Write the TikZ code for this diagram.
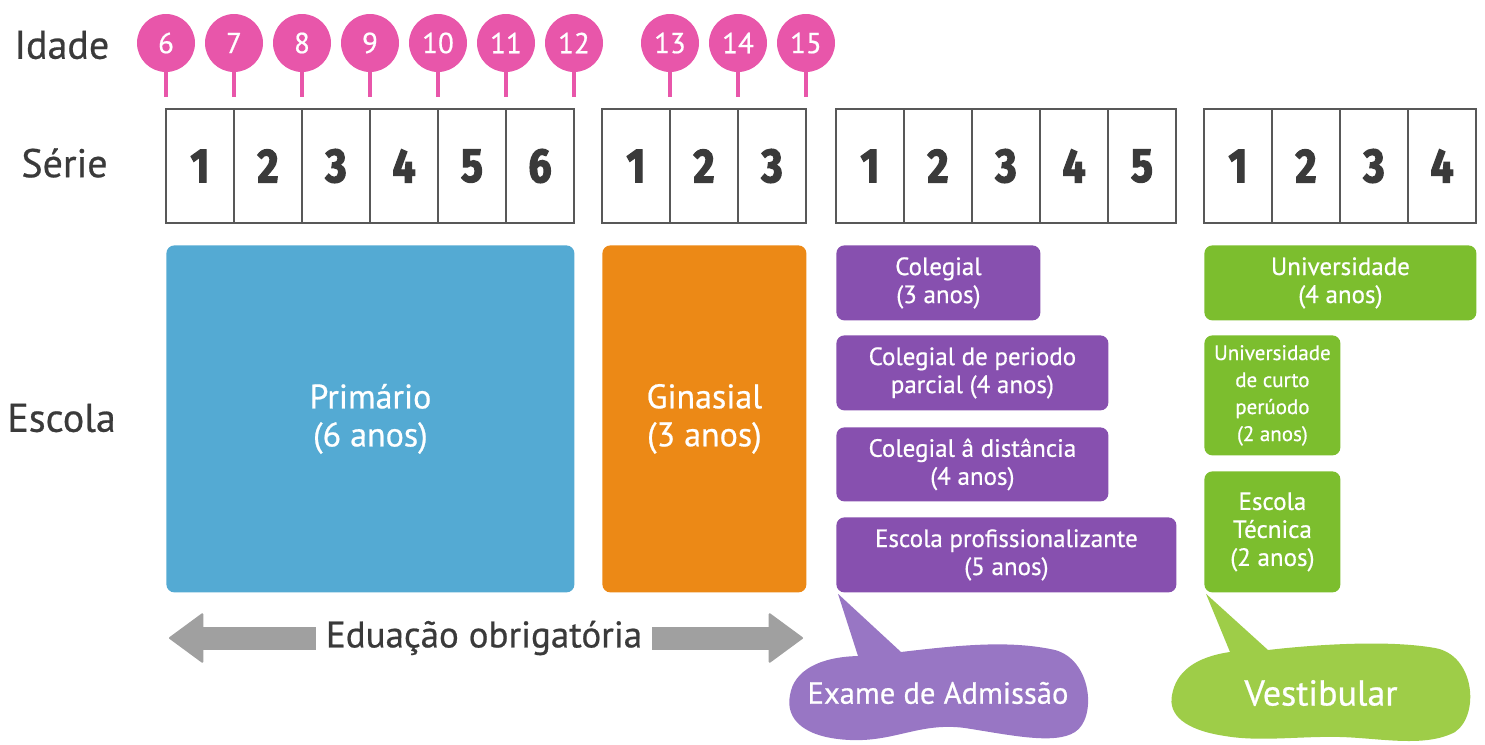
\documentclass[tikz,border=0pt]{standalone}
\usepackage{fontspec}
\setmainfont{PT Sans}[UprightFeatures={FakeBold=0.6}]
\newfontfamily\numfont{Fira Sans}[BoldFeatures={FakeBold=2.5}, FakeStretch=0.85]
\usetikzlibrary{positioning, arrows.meta}
\definecolor{pinpink}{RGB}{232,86,170}
\definecolor{txtgray}{RGB}{58,58,58}
\definecolor{primblue}{RGB}{84,170,211}
\definecolor{ginorange}{RGB}{236,137,22}
\definecolor{colpurple}{RGB}{135,80,175}
\definecolor{unigreen}{RGB}{124,190,46}
\definecolor{exampurple}{RGB}{152,118,196}
\definecolor{vestgreen}{RGB}{158,205,72}
\definecolor{arrowgray}{RGB}{160,160,160}

\begin{document}
\begin{tikzpicture}[x=0.5pt, y=-0.5pt,
    rowlabel/.style={anchor=west, inner sep=0pt, text=txtgray, font=\fontsize{20}{23}\selectfont},
    agepin/.style={circle, fill=pinpink, minimum size=29pt, inner sep=0pt, text=white, font=\fontsize{14.5}{15}\selectfont},
    pinstem/.style={draw=pinpink, line width=1.6pt},
    cell/.style={draw=txtgray!85, line width=0.9pt, minimum width=34pt, minimum height=57pt, inner sep=0pt,
      text=txtgray, font=\numfont\bfseries\fontsize{24}{24}\selectfont},
    school/.style={anchor=north west, rounded corners=4pt, inner sep=0pt, text=white, align=center},
    bigschool/.style={school, font=\fontsize{17}{19}\selectfont},
    smallschool/.style={school, minimum height=37.5pt, font=\fontsize{12.5}{14}\selectfont},
    bubbletext/.style={inner sep=0pt, text=white},
    bigarrow/.style={draw=arrowgray, line width=11.5pt,
      -{Triangle[length=17.5pt, width=25.5pt, line width=1pt, round]}},
  ]
  \useasboundingbox (0,0) rectangle (1485,745);

  % row labels
  \node[rowlabel] (lbl_idade) at (14,45) {Idade};
  \node[rowlabel] (lbl_serie) at (21,163) {Série};
  \node[rowlabel] (lbl_escola) at (7,418) {Escola};

  % age pins
  \foreach \age/\px in {6/166, 7/234, 8/302, 9/370, 10/438, 11/506, 12/574, 13/670, 14/738, 15/806} {
    \node[agepin] (age_\age) at (\px,43) {\age};
    \coordinate (stem_\age) at (\px,97);
    \draw[pinstem] (age_\age) -- (stem_\age);
  }

  % grade cells
  \foreach \grp/\left/\n in {prim/166/6, gin/602/3, col/836/5, uni/1204/4}
    \foreach \i in {1,...,\n}
      \node[cell] (cell_\grp_\i) at ({\left+68*\i-34},166) {\i};

  % schools
  \node[bigschool, fill=primblue, minimum width=204pt, minimum height=173.5pt] (box_primario) at (166,245) {Primário\\(6 anos)};
  \node[bigschool, fill=ginorange, minimum width=102pt, minimum height=173.5pt] (box_ginasial) at (602,245) {Ginasial\\(3 anos)};

  \node[smallschool, fill=colpurple, minimum width=102pt] (box_colegial) at (836,245) {Colegial\\(3 anos)};
  \node[smallschool, fill=colpurple, minimum width=136pt] (box_parcial) at (836,335) {Colegial de periodo\\parcial (4 anos)};
  \node[smallschool, fill=colpurple, minimum width=136pt, minimum height=37pt] (box_distancia) at (836,427) {Colegial â distância\\(4 anos)};
  \node[smallschool, fill=colpurple, minimum width=170pt] (box_prof) at (836,517) {Escola profissionalizante\\(5 anos)};

  \node[smallschool, fill=unigreen, minimum width=136pt] (box_univ) at (1204,245) {Universidade\\(4 anos)};
  \node[school, fill=unigreen, minimum width=68pt, minimum height=60pt, font=\fontsize{10.5}{13.5}\selectfont] (box_curto) at (1204,335) {Universidade\\de curto\\perúodo\\(2 anos)};
  \node[smallschool, fill=unigreen, minimum width=68pt, minimum height=60.5pt] (box_tecnica) at (1204,471) {Escola\\Técnica\\(2 anos)};

  % compulsory education arrows
  \node[inner sep=0pt, outer xsep=5pt, text=txtgray, font=\fontsize{18.5}{20}\selectfont] (obrig) at (484,638) {Eduação obrigatória};
  \coordinate (obrig_left) at (169,638);
  \coordinate (obrig_right) at (803,638);
  \draw[bigarrow] (obrig) -- (obrig_left);
  \draw[bigarrow] (obrig) -- (obrig_right);

  % speech bubbles
  \fill[exampurple] (box_prof.south west) ++(2,1) -- (901,652)
    .. controls (960,645) and (1010,640) .. (1055,650)
    .. controls (1092,660) and (1097,718) .. (1075,732)
    .. controls (1055,745) and (1010,735) .. (965,728)
    .. controls (920,722) and (895,742) .. (850,740)
    .. controls (805,738) and (785,720) .. (790,695)
    .. controls (794,670) and (820,657) .. (858,656) -- cycle;
  \node[bubbletext, font=\fontsize{15.3}{17}\selectfont] (exame) at (938,693) {Exame de Admissão};

  \fill[vestgreen] (box_tecnica.south west) ++(2,1) -- (1268,650)
    .. controls (1320,644) and (1390,640) .. (1435,648)
    .. controls (1475,655) and (1480,715) .. (1455,732)
    .. controls (1425,748) and (1380,738) .. (1340,737)
    .. controls (1300,736) and (1260,742) .. (1225,736)
    .. controls (1185,730) and (1168,715) .. (1172,695)
    .. controls (1176,672) and (1195,657) .. (1230,652) -- cycle;
  \node[bubbletext, font=\fontsize{18}{20}\selectfont] (vestibular) at (1321,693) {Vestibular};
\end{tikzpicture}
\end{document}
